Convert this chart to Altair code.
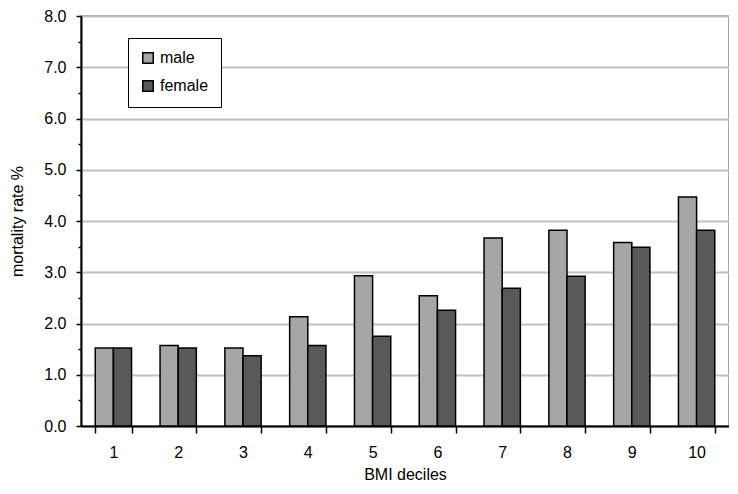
import altair as alt
import pandas as pd

deciles = ["1", "2", "3", "4", "5", "6", "7", "8", "9", "10"]
male = [1.52, 1.57, 1.52, 2.13, 2.93, 2.54, 3.67, 3.82, 3.58, 4.47]
female = [1.52, 1.52, 1.37, 1.57, 1.75, 2.26, 2.69, 2.92, 3.49, 3.82]
series = ["male", "female"]
colors = ["#a6a6a6", "#595959"]
y_ticks = [i * 0.5 for i in range(17)]

rows = []
for d, m, f in zip(deciles, male, female):
    rows.append({"decile": d, "sex": "male", "rate": m})
    rows.append({"decile": d, "sex": "female", "rate": f})
df = pd.DataFrame(rows)

FONT = "Liberation Sans"

chart = alt.Chart(df).mark_bar(stroke="black", strokeWidth=1.5).encode(
    x=alt.X("decile:N", sort=deciles, title="BMI deciles",
            scale=alt.Scale(paddingInner=0.44, paddingOuter=0.22),
            axis=alt.Axis(labelAngle=0, tickBand="extent", tickSize=7,
                          tickColor="black", tickWidth=1.5,
                          domainColor="black", domainWidth=2,
                          labelPadding=11, titlePadding=6,
                          labelFontSize=16, titleFontSize=16,
                          labelFont=FONT, titleFont=FONT,
                          labelColor="black", titleColor="black",
                          titleFontWeight="normal", grid=False)),
    xOffset=alt.XOffset("sex:N", sort=series),
    y=alt.Y("rate:Q", title="mortality rate %",
            scale=alt.Scale(domain=[0, 8], nice=False),
            axis=alt.Axis(values=y_ticks,
                          labelExpr="datum.value % 1 === 0 ? format(datum.value, '.1f') : ''",
                          tickSize={"condition": {"test": "datum.value % 1 !== 0", "value": 3}, "value": 5},
                          gridColor={"condition": {"test": "datum.value % 1 !== 0", "value": "transparent"}, "value": "#c0c0c0"},
                          gridWidth=2,
                          tickColor="black", tickWidth=1.5,
                          domainColor="black", domainWidth=2,
                          labelPadding=10, titlePadding=18,
                          labelFontSize=16, titleFontSize=16,
                          labelFont=FONT, titleFont=FONT,
                          labelColor="black", titleColor="black",
                          titleFontWeight="normal")),
    color=alt.Color("sex:N", sort=series,
                    scale=alt.Scale(domain=series, range=colors),
                    legend=alt.Legend(title=None, orient="none",
                                      legendX=47, legendY=22,
                                      symbolType="square", symbolSize=110,
                                      symbolStrokeColor="black", symbolStrokeWidth=1.5,
                                      labelFontSize=16, labelFont=FONT,
                                      labelColor="black", rowPadding=10,
                                      padding=12, strokeColor="black",
                                      fillColor="white", labelLimit=200)),
).properties(
    width=648, height=410,
    autosize=alt.AutoSizeParams(type="none"),
    padding={"left": 73, "top": 8, "right": 0, "bottom": 59},
).configure_view(
    stroke="#888888", strokeWidth=1.5
)

chart.save("out.html", embed_options={"renderer": "svg", "actions": False})
